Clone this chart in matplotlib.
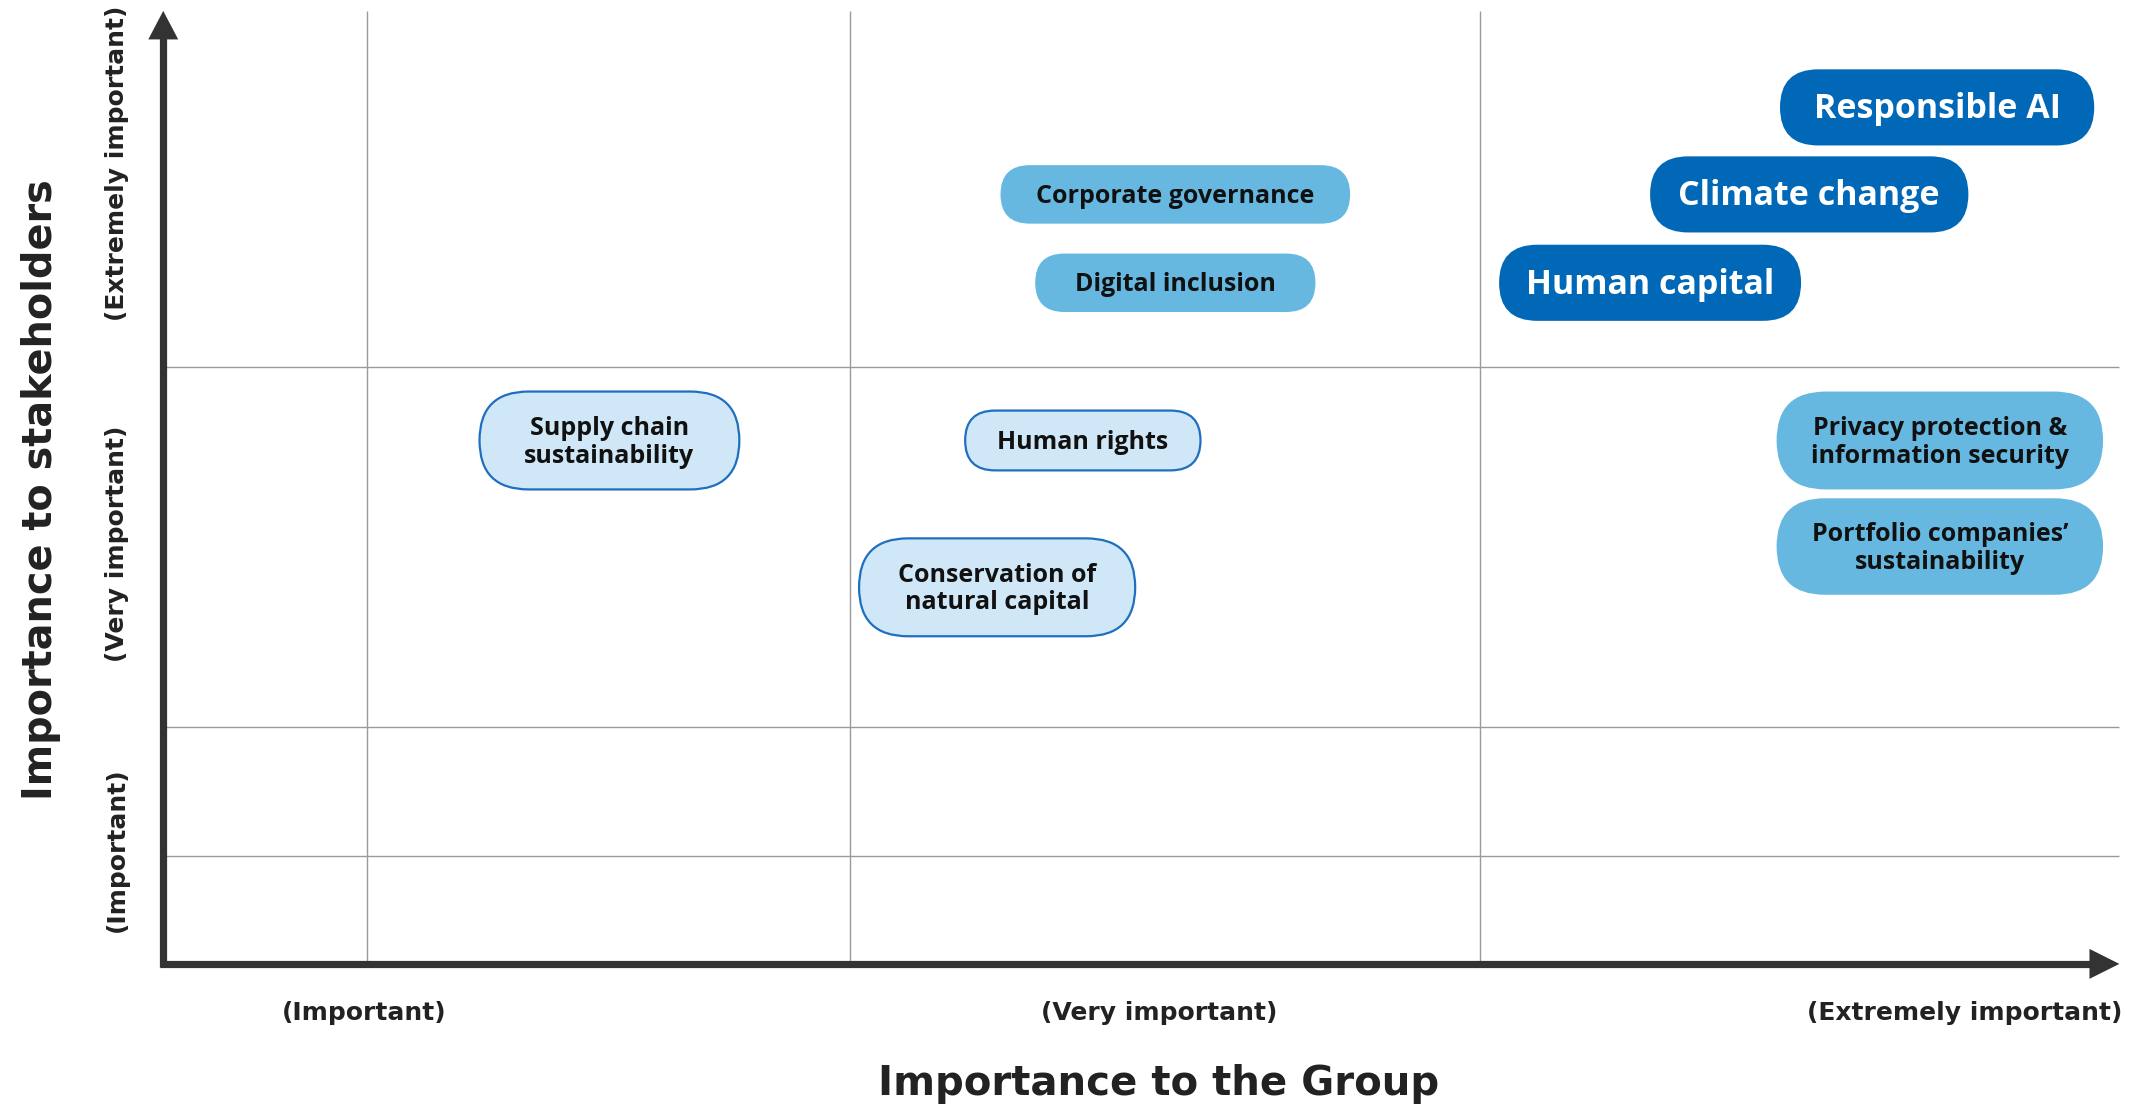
import matplotlib
matplotlib.use("Agg")
import matplotlib.pyplot as plt
from matplotlib.patches import FancyBboxPatch, Polygon

# ---------------- data ----------------
topics = ["Responsible AI", "Climate change", "Human capital",
          "Corporate governance", "Digital inclusion",
          "Supply chain\nsustainability", "Human rights",
          "Conservation of\nnatural capital",
          "Privacy protection &\ninformation security",
          "Portfolio companies\u2019\nsustainability"]
# positions on the matrix (importance to the Group, importance to stakeholders)
group_importance = [1424, 1330, 1213, 864, 864, 448, 796, 733, 1426, 1426]
stakeholder_importance = [79, 143, 208, 143, 208, 324, 324, 432, 324, 402]
tier = ["high", "high", "high", "mid", "mid", "low", "low", "low", "mid", "mid"]

x_tick_labels = ["(Important)", "(Very important)", "(Extremely important)"]
y_tick_labels = ["(Extremely important)", "(Very important)", "(Important)"]
x_title = "Importance to the Group"
y_title = "Importance to stakeholders"

# ---------------- layout ----------------
bubble_w = [231, 234, 222, 257, 206, 191, 173, 203, 240, 240]
bubble_h = [56, 56, 56, 43, 43, 72, 44, 72, 72, 71]
styles = {
    "high": dict(face="#0068b7", edge="#0068b7", text="white", size=24.5, lw=0),
    "mid": dict(face="#66b8e1", edge="#66b8e1", text="#111111", size=18, lw=0),
    "low": dict(face="#cfe7f6", edge="#1f6fc0", text="#111111", size=18, lw=1.6),
}
grid_x = [270, 625, 1088]
grid_y = [270, 535, 630]
x_tick_pos = [268, 852, 1444]
y_tick_pos = [120, 400, 625]

W, H = 1568, 815
fig = plt.figure(figsize=(21.33, 11.08), dpi=100)
ax = fig.add_axes([0, 0, 1, 1])
ax.set_xlim(0, W)
ax.set_ylim(H, 0)
ax.axis("off")

font = ["Open Sans", "DejaVu Sans"]
narrow = ["DejaVu Sans Condensed", "DejaVu Sans"]

axis_color = "#333333"
ox, oy = 120, 709
top, right = 8, 1558

# grid lines
ax.vlines(grid_x, top, oy, color="#9a9a9a", lw=1.0, zorder=1)
ax.hlines(grid_y, ox, right, color="#9a9a9a", lw=1.0, zorder=1)

# axes with arrows
ax.plot([ox, ox], [oy + 2.5, top + 20], color=axis_color, lw=5.2, solid_capstyle="butt", zorder=3)
ax.plot([ox - 2.5, right - 20], [oy, oy], color=axis_color, lw=5.2, solid_capstyle="butt", zorder=3)
ax.add_patch(Polygon([[ox, top], [ox - 11, top + 21], [ox + 11, top + 21]], closed=True,
                     color=axis_color, lw=0, zorder=3))
ax.add_patch(Polygon([[right, oy], [right - 22, oy - 11], [right - 22, oy + 11]], closed=True,
                     color=axis_color, lw=0, zorder=3))

# bubbles
for name, gx, sy, t, bw, bh in zip(topics, group_importance, stakeholder_importance,
                                   tier, bubble_w, bubble_h):
    st = styles[t]
    patch = FancyBboxPatch((gx - bw / 2, sy - bh / 2), bw, bh,
                           boxstyle=f"round,pad=0,rounding_size={bh / 2}",
                           facecolor=st["face"], edgecolor=st["edge"], lw=st["lw"], zorder=4)
    ax.add_patch(patch)
    ax.text(gx, sy + 1.5, name, ha="center", va="center", color=st["text"],
            fontsize=st["size"], fontweight="bold", family=font,
            linespacing=1.12, zorder=5)

# tick labels
for lab, xp in zip(x_tick_labels, x_tick_pos):
    ax.text(xp, 745, lab, ha="center", va="center", fontsize=18, fontweight="bold",
            color="#222222", family=narrow)
for lab, yp in zip(y_tick_labels, y_tick_pos):
    ax.text(86, yp, lab, ha="center", va="center", rotation=90, fontsize=18,
            fontweight="bold", color="#222222", family=narrow)

# titles
ax.text(852, 797, x_title, ha="center", va="center", fontsize=29, fontweight="bold",
        color="#222222", family=narrow)
ax.text(30, 360, y_title, ha="center", va="center", rotation=90, fontsize=28.6,
        fontweight="bold", color="#222222", family=narrow)

fig.savefig("out.png", dpi=100)
